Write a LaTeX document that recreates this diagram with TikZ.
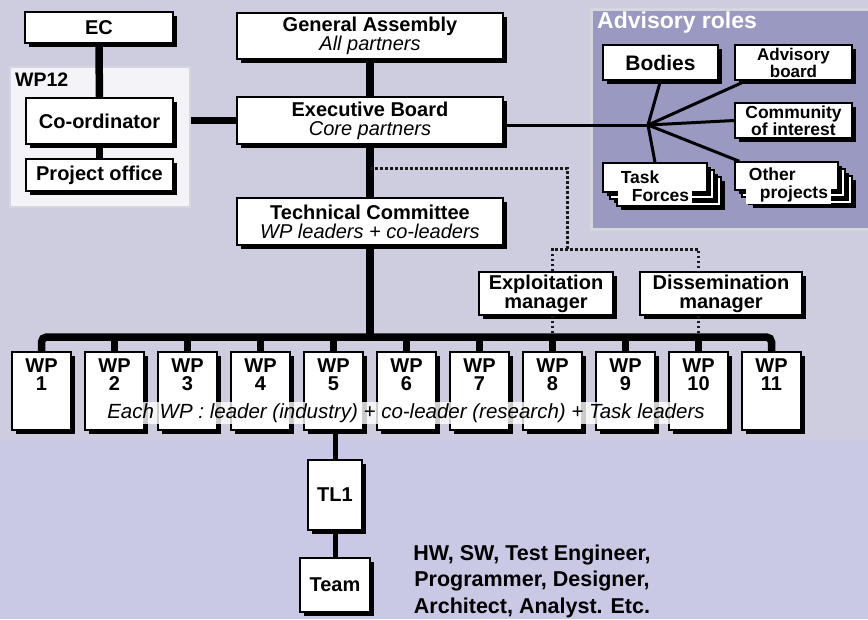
\documentclass[tikz,border=0pt]{standalone}
\usepackage{fontspec}
\setmainfont{Liberation Sans}
\usetikzlibrary{shadows,calc}
\definecolor{bgtop}{RGB}{205,205,223}
\definecolor{bgbot}{RGB}{201,201,229}
\definecolor{wpdfill}{RGB}{243,243,248}
\definecolor{rimgray}{RGB}{214,214,222}
\definecolor{advfill}{RGB}{153,153,194}
\newcommand{\fs}[2]{\fontsize{#1}{#2}\selectfont}
\newcommand{\subline}[1]{{\mdseries\itshape #1}}
\tikzset{
  box/.style={draw=black, line width=1.5pt, fill=white, inner sep=0pt, align=center,
    font=\fs{20}{19}\bfseries,
    drop shadow={shadow xshift=3.5pt, shadow yshift=-3.5pt, fill=black, opacity=1}},
  cardback/.style={draw=black, line width=1.5pt, fill=white,
    drop shadow={shadow xshift=3.5pt, shadow yshift=-3.5pt, fill=black, opacity=1}},
  cardtext/.style={align=left, fill=white, inner xsep=3pt, inner ysep=1.5pt, font=\fs{17.5}{18}\bfseries},
  wpbox/.style={box, minimum width=59pt, minimum height=78pt},
  bar/.style={line width=7.5pt},
  tlbar/.style={line width=5pt},
  fan/.style={line width=3pt},
  dots/.style={line width=3pt, dash pattern=on 2.5pt off 2.5pt, color=black!90},
}
\begin{document}
\begin{tikzpicture}[x=1pt, y=-1pt]
  \useasboundingbox (0,0) rectangle (868,619);
  \fill[bgtop] (0,0) rectangle (868,440);
  \fill[bgbot] (0,440) rectangle (868,619);

  % left column
  \node[draw=rimgray, line width=2pt, fill=wpdfill, minimum width=180pt, minimum height=140pt] (wpd) at (100,137) {};
  \node[anchor=west, inner sep=0pt, font=\fs{19.5}{19}\bfseries] (wpdtitle) at (15,80) {WP12};
  \node[box, minimum width=148pt, minimum height=31pt] (ec) at (99,27.5) {EC};
  \node[box, minimum width=147pt, minimum height=46pt] (coord) at (99.5,121) {Co-ordinator};
  \node[box, minimum width=147pt, minimum height=32pt] (office) at (99.5,175) {Project office};

  % advisory roles
  \node[draw=rimgray, line width=3pt, fill=advfill, anchor=north west, minimum width=290pt, minimum height=220pt] (adv) at (590,8) {};
  \node[anchor=west, inner sep=0pt, text=white, font=\fs{23}{23}\bfseries] (advtitle) at (597,23) {Advisory roles};
  \node[box, minimum width=115pt, minimum height=35pt, font=\fs{21}{21}\bfseries] (bodies) at (660.5,62.5) {Bodies};
  \node[box, minimum width=117pt, minimum height=35pt, font=\fs{17}{15}\bfseries] (advb) at (793.5,62.5) {Advisory\\board};
  \node[box, minimum width=117pt, minimum height=35pt, font=\fs{17.5}{15}\bfseries] (coi) at (793.5,120.5) {Community\\of interest};
  % card stacks
  \foreach \k in {14,7} {
    \draw[cardback] (603+\k,163+\k) rectangle (707+\k,192+\k);
    \draw[cardback] (735+\k,162+\k) rectangle (838+\k,190+\k);
  }
  \node[box, minimum width=104pt, minimum height=29pt] (tf) at (655,177.5) {};
  \node[box, minimum width=103pt, minimum height=28pt] (op) at (786.5,176) {};
  \node[cardtext] (tftext) at ($(tf)+(0,8.5)$) {Task\\\hspace*{11pt}Forces};
  \node[cardtext] (optext) at ($(op)+(2,9)$) {Other\\\hspace*{11pt}projects};

  % boards
  \node[box, minimum width=266pt, minimum height=46pt] (ga) at (370,36) {General Assembly\\\subline{All partners}};
  \node[box, minimum width=266pt, minimum height=47pt] (eb) at (370,120.5) {Executive Board\\\subline{Core partners}};
  \node[box, minimum width=266pt, minimum height=47pt] (tc) at (370,221.5) {Technical Committee\\\subline{WP leaders + co-leaders}};
  \node[box, minimum width=134pt, minimum height=43pt] (expl) at (546,293.5) {Exploitation\\manager};
  \node[box, minimum width=162pt, minimum height=43pt] (diss) at (721,293.5) {Dissemination\\manager};

  % work packages
  \foreach \i in {1,...,11}
    \node[wpbox, label={[anchor=north, yshift=-7pt, inner sep=0pt, align=center, font=\fs{20}{18.5}\bfseries]north:WP\\\i}] (wp\i) at ({41.5+73*(\i-1)},391) {};

  \node[box, minimum width=54pt, minimum height=70pt] (tl) at (335,495) {TL1};
  \node[box, minimum width=70pt, minimum height=54pt] (team) at (335,585) {Team};
  \node[align=center, inner sep=0pt, font=\fs{21.5}{26.5}\bfseries] (roles) at (532,581) {HW, SW, Test Engineer,\\Programmer, Designer,\\Architect, Analyst. Etc.};

  % connectors
  \coordinate (hub) at (648,125);
  \coordinate (bus) at (0,337);
  \coordinate (tee) at (370,168);
  \coordinate (dmid) at (567,249);

  \draw[bar] (ec) -- (coord);
  \draw[bar] (coord) -- (office);
  \draw[bar] (wpd.east |- eb) -- (eb.west);
  \draw[bar] (ga) -- (eb);
  \draw[bar] (eb) -- (tc);

  \draw[fan] (eb.east |- hub) -- (hub);
  \draw[fan] (hub) -- (bodies.south);
  \draw[fan] (hub) -- ($(advb.south west)+(12,0)$);
  \draw[fan] (hub) -- (coi.west);
  \draw[fan] (hub) -- (tf.north);
  \draw[fan] (hub) -- ($(op.north west)+(5,0)$);

  \draw[dots] (tee) -| (dmid);
  \draw[dots] (expl.north -| wp8.north) |- (dmid) -| (diss.north -| wp10.north);
  \draw[dots] (expl.south -| wp8.north) -- (wp8.north |- bus);
  \draw[dots] (diss.south -| wp10.north) -- (wp10.north |- bus);

  \draw[bar] (tc) -- (tc.south |- bus);
  \draw[bar, rounded corners=5pt] (wp1.north) -- (wp1.north |- bus) -- (wp11.north |- bus) -- (wp11.north);
  \foreach \i in {2,...,10}
    \draw[bar] (wp\i.north |- bus) -- (wp\i.north);

  \draw[tlbar] (wp5.south -| tl.north) -- (tl.north);
  \draw[tlbar] (tl) -- (team);

  \node[fill=white, fill opacity=0.8, text opacity=1, inner sep=1.5pt, font=\fs{20.5}{20}\itshape] (note) at (406,413) {Each WP : leader (industry) + co-leader (research) + Task leaders};
\end{tikzpicture}
\end{document}
